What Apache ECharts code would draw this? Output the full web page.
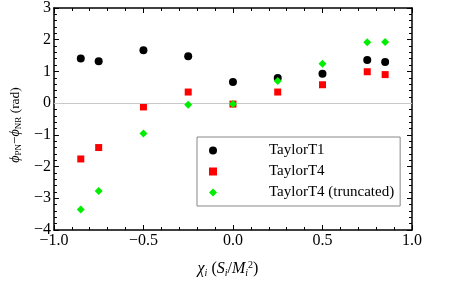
<!DOCTYPE html>
<html><head><meta charset="utf-8">
<script src="https://cdn.jsdelivr.net/npm/echarts@6/dist/echarts.min.js"></script>
<style>html,body{margin:0;padding:0;background:#fff}#c{width:452px;height:283px}</style>
</head><body><div id="c"></div>
<script>
const chi = [-0.85, -0.75, -0.5, -0.25, 0, 0.25, 0.5, 0.75, 0.85];
const taylorT1 = [1.41, 1.32, 1.67, 1.48, 0.67, 0.79, 0.93, 1.36, 1.30];
const taylorT4 = [-1.76, -1.40, -0.12, 0.35, -0.03, 0.35, 0.58, 0.99, 0.90];
const taylorT4trunc = [-3.35, -2.77, -0.96, -0.05, -0.03, 0.70, 1.24, 1.92, 1.93];
const seriesNames = ['TaylorT1', 'TaylorT4', 'TaylorT4 (truncated)'];

const pair = (ys) => chi.map((x, i) => [x, ys[i]]);
const F = 'Liberation Serif';
const fmt = v => String(v).replace('-', '\u2212');
const fmtX = v => fmt(Number(v).toFixed(1));

const chart = echarts.init(document.getElementById('c'), null, {renderer: 'canvas'});
const axisLine = {show: true, onZero: false, lineStyle: {color: '#000', width: 1.5}};
const tick = {show: true, inside: true, length: 5, lineStyle: {color: '#000', width: 1}};
const minor = {show: true, splitNumber: 5, length: 3, lineStyle: {color: '#000', width: 1}};

chart.setOption({
  animation: false,
  grid: {left: 53, right: 40, top: 8, bottom: 53},
  xAxis: [{
    type: 'value', min: -1, max: 1, interval: 0.5, position: 'bottom',
    axisLine, axisTick: tick, minorTick: minor, splitLine: {show: false},
    axisLabel: {formatter: fmtX, fontFamily: F, fontSize: 16, color: '#000', margin: 3},
    name: '{i|χ}{s|i}{n| (}{i|S}{s|i}{n|/}{i|M}{s|i}{p|2}{n|)}',
    nameLocation: 'middle', nameGap: 30,
    nameTextStyle: {
      padding: [0, 10, 0, 0],
      rich: {
        i: {fontFamily: F, fontStyle: 'italic', fontSize: 16, color: '#000'},
        n: {fontFamily: F, fontSize: 16, color: '#000'},
        s: {fontFamily: F, fontStyle: 'italic', fontSize: 10, color: '#000', padding: [8, 0, 0, 0]},
        p: {fontFamily: F, fontSize: 10, color: '#000', padding: [0, 0, 8, 0]}
      }
    }
  }, {
    type: 'value', min: -1, max: 1, interval: 0.5, position: 'top',
    axisLine, axisTick: tick, minorTick: minor, splitLine: {show: false},
    axisLabel: {show: false}
  }],
  yAxis: [{
    type: 'value', min: -4, max: 3, interval: 1, position: 'left',
    axisLine, axisTick: tick, minorTick: minor, splitLine: {show: false},
    axisLabel: {formatter: fmt, fontFamily: F, fontSize: 16, color: '#000', margin: 3},
    name: '{i|ϕ}{s|PN}{n|−}{i|ϕ}{s|NR}{n| (rad)}',
    nameLocation: 'middle', nameGap: 25,
    nameTextStyle: {
      padding: [0, 12, 0, 0],
      rich: {
        i: {fontFamily: F, fontStyle: 'italic', fontSize: 14, color: '#000'},
        n: {fontFamily: F, fontSize: 13.5, color: '#000'},
        s: {fontFamily: F, fontSize: 9, color: '#000', padding: [7, 0, 0, 0]}
      }
    }
  }, {
    type: 'value', min: -4, max: 3, interval: 1, position: 'right',
    axisLine, axisTick: tick, minorTick: minor, splitLine: {show: false},
    axisLabel: {show: false}
  }],
  legend: {
    orient: 'vertical', left: 197, top: 137,
    padding: [6, 6, 6, 12], itemGap: 6,
    borderColor: '#888', borderWidth: 1, borderRadius: 0,
    itemWidth: 8, itemHeight: 8,
    textStyle: {fontFamily: F, fontSize: 15, color: '#000', padding: [0, 0, 0, 47]},
    data: seriesNames
  },
  series: [
    {type: 'line', data: [], silent: true, z: 1,
     markLine: {silent: true, symbol: 'none', label: {show: false},
       lineStyle: {color: '#c8c8c8', type: 'solid', width: 1.2}, data: [{yAxis: 0}]}},
    {name: seriesNames[0], type: 'scatter', data: pair(taylorT1), symbol: 'circle', symbolSize: 8,
     itemStyle: {color: '#000', opacity: 1}, z: 3},
    {name: seriesNames[1], type: 'scatter', data: pair(taylorT4), symbol: 'rect', symbolSize: 7,
     itemStyle: {color: '#ff0000', opacity: 1}, z: 4},
    {name: seriesNames[2], type: 'scatter', data: pair(taylorT4trunc), symbol: 'diamond', symbolSize: 8,
     itemStyle: {color: '#00ee00', opacity: 1}, z: 5}
  ]
});
</script></body></html>
